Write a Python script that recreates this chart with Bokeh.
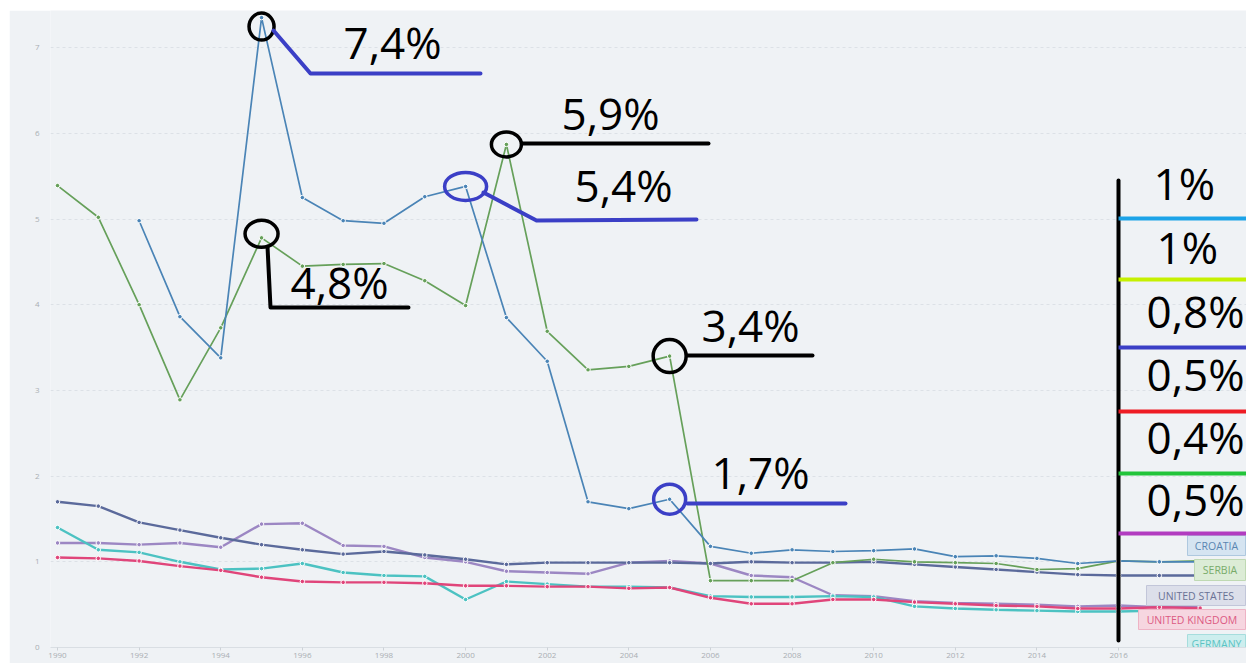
import numpy as np
from bokeh.plotting import figure
from bokeh.models import Range1d, FixedTicker, Label
from bokeh.embed import file_html
from bokeh.resources import INLINE
from bokeh.core.properties import value

nan = float("nan")

# ---------------- data ----------------
years = list(range(1990, 2019))

croatia = [nan, nan, 4.98, 3.86, 3.38, 7.35, 5.25, 4.98, 4.95, 5.26, 5.38, 3.85, 3.34, 1.70, 1.62,
           1.73, 1.18, 1.10, 1.14, 1.12, 1.13, 1.15, 1.06, 1.07, 1.04, 0.98, 1.01, 1.00, 1.00]
serbia = [5.39, 5.02, 4.00, 2.89, 3.73, 4.78, 4.45, 4.47, 4.48, 4.28, 3.99, 5.87, 3.69, 3.24, 3.28,
          3.40, 0.78, 0.78, 0.78, 0.99, 1.03, 1.00, 0.99, 0.98, 0.91, 0.92, 1.01, 1.00, 1.01]
united_states = [1.70, 1.65, 1.46, 1.37, 1.28, 1.20, 1.14, 1.09, 1.12, 1.08, 1.03, 0.97, 0.99, 0.99, 0.99,
                 0.99, 0.98, 1.00, 0.99, 0.99, 1.00, 0.97, 0.94, 0.91, 0.88, 0.85, 0.84, 0.84, 0.84]
united_kingdom = [1.05, 1.04, 1.01, 0.95, 0.90, 0.82, 0.77, 0.76, 0.76, 0.75, 0.72, 0.72, 0.71, 0.71, 0.69,
                  0.70, 0.58, 0.51, 0.51, 0.56, 0.56, 0.53, 0.51, 0.49, 0.48, 0.455, 0.455, 0.47, 0.46]
germany = [1.40, 1.14, 1.11, 1.00, 0.91, 0.92, 0.98, 0.875, 0.84, 0.83, 0.56, 0.77, 0.74, 0.71, 0.71,
           0.70, 0.60, 0.59, 0.59, 0.60, 0.59, 0.48, 0.455, 0.44, 0.43, 0.42, 0.42, 0.43, 0.43]
sixth = [1.22, 1.22, 1.20, 1.22, 1.17, 1.44, 1.45, 1.19, 1.18, 1.05, 1.00, 0.89, 0.875, 0.86, 0.99,
         1.01, 0.98, 0.84, 0.82, 0.61, 0.60, 0.54, 0.52, 0.51, 0.50, 0.48, 0.49, 0.47, 0.48]

series_names = ["CROATIA", "SERBIA", "UNITED STATES", "UNITED KINGDOM", "GERMANY", "AUSTRIA"]
series_values = [croatia, serbia, united_states, united_kingdom, germany, sixth]

x_ticks = list(range(1990, 2017, 2))
y_ticks = list(range(0, 8))

callout_texts = ["7,4%", "5,9%", "5,4%", "4,8%", "3,4%", "1,7%"]
side_texts = ["1%", "1%", "0,8%", "0,5%", "0,4%", "0,5%"]
source_text = ["Data from:", "World Bank"]

# ---------------- styles ----------------
BG = "#eff2f5"
line_colors = ["#4a84b6", "#66a05a", "#5b6a9b", "#e0457a", "#4cc2c2", "#9c87c3"]
line_widths = [1.7, 1.7, 2.4, 2.4, 2.4, 2.4]
box_fill = ["#d5e4f1", "#dcecd6", "#dcdfea", "#f6d6e0", "#cdeeee", "#e6def0"]
box_line = ["#aec8df", "#bfd9b3", "#c2c6d9", "#eeb3c5", "#a6dddd", "#cfc3e1"]
box_text = ["#5a86b1", "#78ab6a", "#6a7295", "#dc5a83", "#5bc3c3", "#9c87c3"]
ANN_BLUE = "#3b3fc6"

# reference-pixel helper (for the overlay drawings only)
PX_YEAR = 40.81
PX_UNIT = 85.7


def rx(px):
    return 1990 + (px - 57) / PX_YEAR


def ry(py):
    return (647 - py) / PX_UNIT


p = figure(width=1237, height=653, output_backend="svg", toolbar_location=None,
           x_range=Range1d(rx(50), rx(1246)), y_range=Range1d(0, ry(10)),
           min_border_left=41, min_border_right=0, min_border_top=0, min_border_bottom=16)
p.margin = (10, 0, 0, 9)
p.background_fill_color = BG
p.border_fill_color = BG
p.outline_line_color = None

p.xaxis.ticker = FixedTicker(ticks=x_ticks)
p.xaxis.axis_line_color = "#d9dee3"
p.xaxis.major_tick_line_color = "#cdd2d7"
p.xaxis.major_tick_in = 0
p.xaxis.major_tick_out = 3
p.xaxis.minor_tick_line_color = None
p.xaxis.major_label_text_font_size = "8px"
p.xaxis.major_label_text_color = "#a9aeb3"
p.xaxis.major_label_text_font = "Open Sans"
p.xaxis.major_label_standoff = 2

p.yaxis.ticker = FixedTicker(ticks=y_ticks)
p.yaxis.axis_line_color = None
p.yaxis.major_tick_line_color = None
p.yaxis.minor_tick_line_color = None
p.yaxis.major_label_text_font_size = "8px"
p.yaxis.major_label_text_color = "#a9aeb3"
p.yaxis.major_label_text_font = "Open Sans"
p.yaxis.major_label_standoff = 5

p.xgrid.grid_line_color = None
p.ygrid.grid_line_color = "#dce1e6"
p.ygrid.grid_line_dash = "3 3"

# ---------------- series ----------------
order = [5, 4, 3, 2, 1, 0]
for i in order:
    p.line(years, series_values[i], line_color=line_colors[i], line_width=line_widths[i])
    p.scatter(years, series_values[i], size=4.5, fill_color=line_colors[i],
              line_color="white", line_width=1)

# ---------------- legend boxes ----------------
box_px = [(1187, 535, 555), (1194, 559, 580), (1146, 585, 605),
          (1138, 609, 629), (1187, 634, 653), (1187, 658, 678)]
for i, (l, t, b) in enumerate(box_px):
    p.quad(left=[rx(l)], right=[rx(1245)], top=[ry(t)], bottom=[ry(b)],
           fill_color=box_fill[i], line_color=box_line[i], line_width=1)
    p.text(x=[(rx(l) + rx(1245)) / 2], y=[(ry(t) + ry(b)) / 2], text=[series_names[i]],
           text_font=value("Open Sans"), text_font_size="10.5px", text_color=box_text[i],
           text_align="center", text_baseline="middle")

# ---------------- hand-drawn overlay ----------------
# circles anchored to data points: (series index, year, dy px, w, h, color)
circles = [(0, 1995, 9, 25, 27, "black"), (1, 2001, 0, 30, 25, "black"),
           (0, 2000, 0, 42, 28, ANN_BLUE), (1, 1995, -4, 33, 27, "black"),
           (1, 2005, 0, 33, 33, "black"), (0, 2005, 0, 32, 30, ANN_BLUE)]
for si, yr, dy, w, h, c in circles:
    v = series_values[si][years.index(yr)]
    p.ellipse(x=[yr], y=[v - dy / PX_UNIT], width=[w], height=[h],
              width_units="screen", height_units="screen",
              fill_color=None, line_color=c, line_width=3.5)

leaders = [([273, 310, 480], [30, 73, 73], ANN_BLUE),
           ([522, 708], [143, 143], "black"),
           ([483, 536, 696], [192, 220, 219], ANN_BLUE),
           ([267, 270, 408], [246, 307, 307], "black"),
           ([687, 812], [355, 355], "black"),
           ([687, 845], [503, 503], ANN_BLUE)]
for xs, ys, c in leaders:
    p.line([rx(v) for v in xs], [ry(v) for v in ys], line_color=c, line_width=4,
           line_cap="round", line_join="round")

# text positions: left edge and vertical centre of the digits
text_pos = [(343, 41), (561, 112), (574, 184), (290, 281), (701, 324), (711, 471)]
p.text(x=[rx(a) for a, b in text_pos], y=[ry(b) for a, b in text_pos], text=callout_texts,
       text_font=value("Open Sans"), text_font_size="44px", text_color="black",
       text_align="left", text_baseline="middle")

# right-hand panel
p.line([rx(1118), rx(1118)], [ry(180), ry(640)], line_color="black", line_width=4, line_cap="round")
bar_y = [218, 279, 347, 411, 473, 533]
bar_c = ["#1ca3e8", "#c6f000", ANN_BLUE, "#ee1c24", "#22c43a", "#b23cc0"]
for yy, c in zip(bar_y, bar_c):
    p.line([rx(1118), rx(1247)], [ry(yy), ry(yy)], line_color=c, line_width=4)
side_pos = [(1153, 182), (1156, 246), (1146, 310), (1146, 373), (1146, 436), (1146, 498)]
p.text(x=[rx(a) for a, b in side_pos], y=[ry(b) for a, b in side_pos], text=side_texts,
       text_font=value("Open Sans"), text_font_size="44px", text_color="black",
       text_align="left", text_baseline="middle")

# source note (below the frame, screen units measured from the frame bottom)
p.add_layout(Label(x=rx(578), y=-13, y_units="screen", text=source_text[0], text_font="Open Sans",
                   text_font_size="11px", text_color="#666b70", text_baseline="alphabetic",
                   background_fill_color=BG, level="overlay"))
p.add_layout(Label(x=rx(638), y=-13, y_units="screen", text=source_text[1], text_font="Open Sans",
                   text_font_size="11px", text_color="#3a9ad9", text_baseline="alphabetic",
                   background_fill_color=BG, level="overlay"))

open("out.html", "w").write(file_html(p, INLINE))
